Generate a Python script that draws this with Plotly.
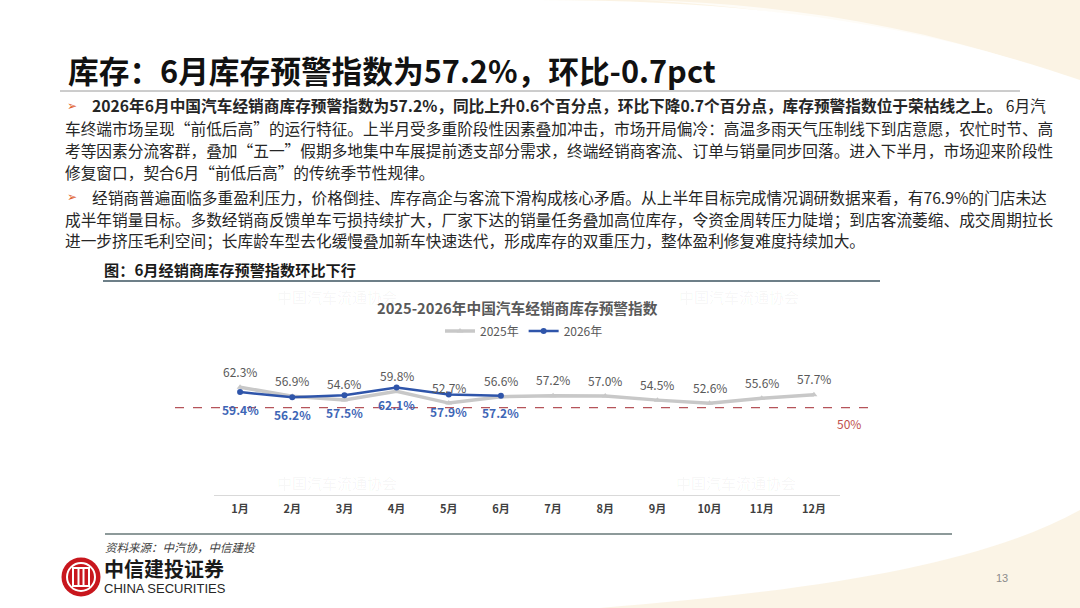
import plotly.graph_objects as go

W, H = 1080, 608
FONT = "Noto Sans CJK SC"

# chart data
months = ["1月", "2月", "3月", "4月", "5月", "6月", "7月", "8月", "9月", "10月", "11月", "12月"]
idx_2025 = [62.3, 56.9, 54.6, 59.8, 52.7, 56.6, 57.2, 57.0, 54.5, 52.6, 55.6, 57.7]
idx_2026 = [59.4, 56.2, 57.5, 62.1, 57.9, 57.2]
warn_line = 50

# slide text
title = "库存：6月库存预警指数为57.2%，环比-0.7pct"
lines = [
    "<b>2026年6月中国汽车经销商库存预警指数为57.2%，同比上升0.6个百分点，环比下降0.7个百分点，库存预警指数位于荣枯线之上。</b> 6月汽",
    "车终端市场呈现“前低后高”的运行特征。上半月受多重阶段性因素叠加冲击，市场开局偏冷：高温多雨天气压制线下到店意愿，农忙时节、高",
    "考等因素分流客群，叠加“五一”假期多地集中车展提前透支部分需求，终端经销商客流、订单与销量同步回落。进入下半月，市场迎来阶段性",
    "修复窗口，契合6月“前低后高”的传统季节性规律。",
    "经销商普遍面临多重盈利压力，价格倒挂、库存高企与客流下滑构成核心矛盾。从上半年目标完成情况调研数据来看，有76.9%的门店未达",
    "成半年销量目标。多数经销商反馈单车亏损持续扩大，厂家下达的销量任务叠加高位库存，令资金周转压力陡增；到店客流萎缩、成交周期拉长",
    "进一步挤压毛利空间；长库龄车型去化缓慢叠加新车快速迭代，形成库存的双重压力，整体盈利修复难度持续加大。",
]
line_y = [106, 128, 150, 172, 197, 219, 241]
bullet_rows = [0, 4]


def px(x):
    return x / W


def py(y):
    return 1 - y / H


def path(pts):
    # pts: list of (cmd, x, y...) in pixels -> paper path string
    out = []
    for p in pts:
        cmd, nums = p[0], p[1:]
        conv = []
        for i in range(0, len(nums), 2):
            conv.append(f"{px(nums[i]):.4f},{py(nums[i + 1]):.4f}")
        out.append(cmd + " " + " ".join(conv))
    return " ".join(out) + " Z"


fig = go.Figure()

fig.add_trace(go.Scatter(
    x=months, y=idx_2025, name="2025年", mode="lines+markers",
    line=dict(color="#c8c8c8", width=3.5),
    marker=dict(symbol="triangle-up", size=6, color="#c8c8c8"),
))
fig.add_trace(go.Scatter(
    x=months[:len(idx_2026)], y=idx_2026, name="2026年", mode="lines+markers",
    line=dict(color="#2f55aa", width=2.5),
    marker=dict(symbol="circle", size=6, color="#2f55aa"),
))

ann = []
for m, v in zip(months, idx_2025):
    ann.append(dict(x=m, y=v, xref="x", yref="y", text=f"{v:.1f}%", showarrow=False,
                    yshift=16, font=dict(family=FONT, size=12, color="#595959")))
for m, v in zip(months, idx_2026):
    ann.append(dict(x=m, y=v, xref="x", yref="y", text=f"<b>{v:.1f}%</b>", showarrow=False,
                    yshift=-17, font=dict(family=FONT, size=12, color="#3e66b6")))

ann.append(dict(x=px(863), y=warn_line, xref="paper", yref="y", yshift=-16, text=f"{warn_line}%",
                showarrow=False, font=dict(family=FONT, size=12, color="#c0504d")))

# slide title
ann.append(dict(x=px(66), y=py(70), xref="paper", yref="paper", xanchor="left", yanchor="middle",
                text=f"<b>{title}</b>", showarrow=False,
                font=dict(family=FONT, size=30.7, color="#111111")))

# body text
for i, (t, y) in enumerate(zip(lines, line_y)):
    x0 = 90 if i in bullet_rows else 63
    ann.append(dict(x=px(x0), y=py(y), xref="paper", yref="paper", xanchor="left", yanchor="middle",
                    text=t, showarrow=False, font=dict(family=FONT, size=15.7, color="#262626")))
for r in bullet_rows:
    ann.append(dict(x=px(65), y=py(line_y[r]), xref="paper", yref="paper", xanchor="left",
                    yanchor="middle", text="➢", showarrow=False,
                    font=dict(family="DejaVu Sans", size=12, color="#e0612f")))

# figure caption
ann.append(dict(x=px(102), y=py(269), xref="paper", yref="paper", xanchor="left", yanchor="middle",
                text="<b>图：6月经销商库存预警指数环比下行</b>", showarrow=False,
                font=dict(family=FONT, size=15.2, color="#1a1a1a")))

# chart title
ann.append(dict(x=px(517), y=py(307), xref="paper", yref="paper", xanchor="center", yanchor="middle",
                text="<b>2025-2026年中国汽车经销商库存预警指数</b>", showarrow=False,
                font=dict(family=FONT, size=14.7, color="#595959")))

# faint watermarks in the chart corners
for wx, wy in [(276, 296), (800, 296), (276, 494), (797, 494)]:
    ann.append(dict(x=px(wx), y=py(wy), xref="paper", yref="paper", showarrow=False,
                    text="中国汽车流通协会", borderpad=0,
                    font=dict(family=FONT, size=15, color="rgba(0,0,0,0.045)")))

# source + logo text + page
ann.append(dict(x=px(104), y=py(547), xref="paper", yref="paper", xanchor="left", yanchor="middle",
                text="<i>资料来源：中汽协，中信建投</i>", showarrow=False, borderpad=0,
                font=dict(family=FONT, size=11.5, color="#404040")))
ann.append(dict(x=px(103), y=py(568), xref="paper", yref="paper", xanchor="left", yanchor="middle",
                text="<b>中信建投证券</b>", showarrow=False, borderpad=0,
                font=dict(family=FONT, size=20, color="#1a1a1a")))
ann.append(dict(x=px(103), y=py(588), xref="paper", yref="paper", xanchor="left", yanchor="middle",
                text="CHINA SECURITIES", showarrow=False, borderpad=0,
                font=dict(family="Liberation Sans", size=13, color="#262626")))
ann.append(dict(x=px(1010), y=py(586), xref="paper", yref="paper", showarrow=False,
                text="13", font=dict(family="Liberation Sans", size=11, color="#8c8c8c")))

shapes = [
    # background swooshes
    dict(type="path", xref="paper", yref="paper", layer="below", line=dict(width=0),
         fillcolor="rgba(247,233,206,0.55)",
         path=path([("M", 540, 0), ("C", 760, 0, 920, 25, 1080, 80), ("L", 1080, 0)])),
    dict(type="path", xref="paper", yref="paper", layer="below", line=dict(width=0),
         fillcolor="rgba(255,255,255,0.7)",
         path=path([("M", 640, 0), ("C", 820, 10, 950, 40, 1080, 95), ("L", 1080, 82),
                    ("C", 940, 30, 800, 4, 640, 0)])),
    dict(type="path", xref="paper", yref="paper", layer="below", line=dict(width=0),
         fillcolor="rgba(247,233,206,0.5)",
         path=path([("M", 600, 608), ("C", 820, 590, 980, 565, 1080, 510), ("L", 1080, 608)])),
    # rules
    dict(type="line", xref="paper", yref="paper", x0=px(60), x1=px(1020), y0=py(91), y1=py(91),
         line=dict(color="#9a9a9a", width=1)),
    dict(type="line", xref="paper", yref="paper", x0=px(103), x1=px(880), y0=py(281), y1=py(281),
         line=dict(color="#3d5560", width=1.5)),
    dict(type="line", xref="paper", yref="paper", x0=px(105), x1=px(952), y0=py(534), y1=py(534),
         line=dict(color="#8d9a9a", width=2)),
    # 50% warning line
    dict(type="line", xref="paper", yref="y", x0=px(175), x1=px(874), y0=warn_line, y1=warn_line,
         line=dict(color="#b5545a", width=1.2, dash="dash")),
    # logo
    dict(type="circle", xref="paper", yref="paper", x0=px(61.5), x1=px(100.5), y0=py(596.5),
         y1=py(557.5), fillcolor="#c8161d", line=dict(width=0)),
    dict(type="circle", xref="paper", yref="paper", x0=px(67), x1=px(95), y0=py(591), y1=py(563),
         fillcolor="rgba(0,0,0,0)", line=dict(color="white", width=2)),
    dict(type="rect", xref="paper", yref="paper", x0=px(73), x1=px(89), y0=py(586), y1=py(568),
         fillcolor="#c8161d", line=dict(color="white", width=2)),
    dict(type="line", xref="paper", yref="paper", x0=px(78.5), x1=px(78.5), y0=py(586), y1=py(568),
         line=dict(color="white", width=2)),
    dict(type="line", xref="paper", yref="paper", x0=px(83.5), x1=px(83.5), y0=py(586), y1=py(568),
         line=dict(color="white", width=2)),
]

fig.update_layout(
    width=W, height=H,
    margin=dict(l=0, r=0, t=0, b=0),
    paper_bgcolor="white", plot_bgcolor="rgba(0,0,0,0)",
    annotations=ann, shapes=shapes,
    showlegend=True,
    legend=dict(orientation="h", x=px(524), y=py(331), xanchor="center", yanchor="middle",
                font=dict(family=FONT, size=12, color="#595959"), bgcolor="rgba(0,0,0,0)",
                itemwidth=30, tracegroupgap=0),
    xaxis=dict(domain=[px(214), px(840)], range=[-0.5, 11.5], showgrid=False, zeroline=False,
               showline=True, linecolor="#d9d9d9", linewidth=1, ticks="",
               tickfont=dict(family=FONT, size=11, color="#404040"), ticklabelstandoff=4,
               tickvals=months, ticktext=[f"<b>{m}</b>" for m in months]),
    yaxis=dict(domain=[py(495), py(330)], range=[-3, 97], visible=False),
)

# page body margin would shift the slide by 8px
fig.write_html("out.html", config={"displayModeBar": False},
               post_script="document.body.style.margin='0';")
